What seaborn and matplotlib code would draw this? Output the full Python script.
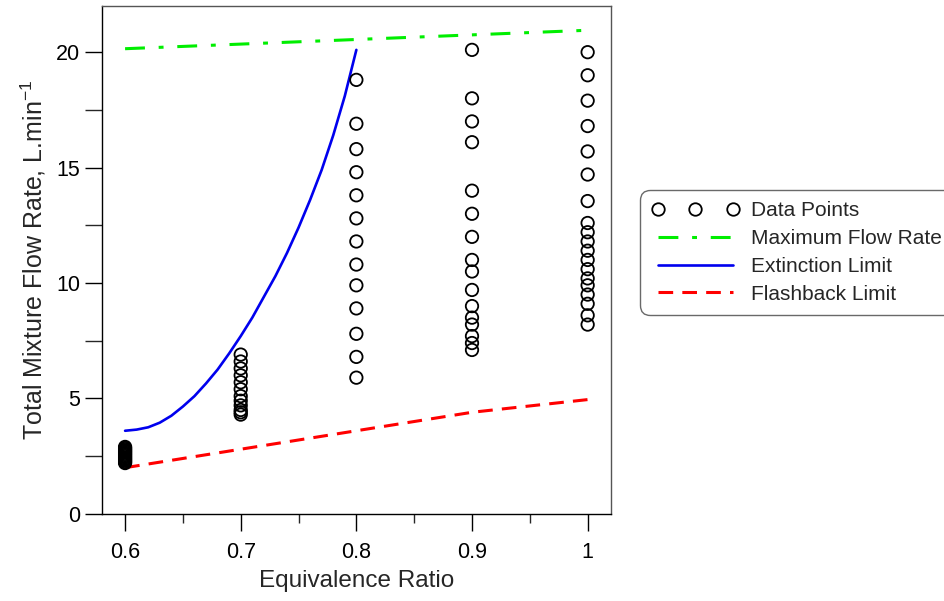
#!/usr/bin/env python3
"""Flow rate vs equivalence ratio: stability map with data points and limits."""
import matplotlib
matplotlib.use("Agg")
import matplotlib.pyplot as plt
from matplotlib.lines import Line2D
from matplotlib.ticker import MultipleLocator
import pandas as pd
import seaborn as sns

# ---- data ----
phi_06 = [2.2, 2.25, 2.3, 2.35, 2.4, 2.45, 2.5, 2.55, 2.6, 2.65, 2.7, 2.75, 2.8, 2.85, 2.9]
phi_07 = [6.9, 6.6, 6.3, 6.0, 5.7, 5.4, 5.1, 4.9, 4.7, 4.5, 4.4, 4.3]
phi_08 = [18.8, 16.9, 15.8, 14.8, 13.8, 12.8, 11.8, 10.8, 9.9, 8.9, 7.8, 6.8, 5.9]
phi_09 = [20.1, 18.0, 17.0, 16.1, 14.0, 13.0, 12.0, 11.0, 10.5, 9.7, 9.0, 8.5, 8.2, 7.7, 7.4, 7.1]
phi_10 = [20.0, 19.0, 17.9, 16.8, 15.7, 14.7, 13.55, 12.6, 12.2, 11.8, 11.4, 11.0, 10.6, 10.2, 9.9, 9.5, 9.1, 8.6, 8.2]

max_phi = [0.6, 0.7, 0.8, 0.9, 1.0]
max_flow = [20.15, 20.35, 20.55, 20.75, 20.95]

ext_phi = [0.60, 0.61, 0.62, 0.63, 0.64, 0.65, 0.66, 0.67, 0.68, 0.69, 0.70,
           0.71, 0.72, 0.73, 0.74, 0.75, 0.76, 0.77, 0.78, 0.79, 0.80]
ext_flow = [3.6, 3.65, 3.75, 3.95, 4.25, 4.65, 5.1, 5.65, 6.25, 6.95, 7.7,
            8.5, 9.4, 10.3, 11.3, 12.4, 13.6, 14.9, 16.4, 18.1, 20.1]

fb_phi = [0.6, 0.7, 0.8, 0.9, 1.0]
fb_flow = [2.0, 2.8, 3.6, 4.4, 4.95]

labels = ["Data Points", "Maximum Flow Rate", "Extinction Limit", "Flashback Limit"]

pts = pd.concat([
    pd.DataFrame({"phi": ph, "flow": v})
    for ph, v in [(0.6, phi_06), (0.7, phi_07), (0.8, phi_08), (0.9, phi_09), (1.0, phi_10)]
], ignore_index=True)

GREEN, BLUE, RED = "#00ee00", "#0000ee", "#ff0000"
GREEN_DASH, RED_DASH = (6.5, 4.5, 1.6, 4.5), (4.8, 3.0)

sns.set_style("ticks")
plt.rcParams["font.family"] = ["Liberation Sans", "DejaVu Sans"]
plt.rcParams["mathtext.fontset"] = "custom"
plt.rcParams["mathtext.rm"] = "Liberation Sans"

fig = plt.figure(figsize=(9.44, 6.01), dpi=100)
ax = fig.add_axes([0.108, 0.145, 0.539, 0.845])

sns.lineplot(x=max_phi, y=max_flow, ax=ax, color=GREEN, lw=2.2)
ax.get_lines()[-1].set_dashes(GREEN_DASH)
sns.lineplot(x=ext_phi, y=ext_flow, ax=ax, color=BLUE, lw=1.9)
sns.lineplot(x=fb_phi, y=fb_flow, ax=ax, color=RED, lw=2.2)
ax.get_lines()[-1].set_dashes(RED_DASH)

sns.scatterplot(data=pts, x="phi", y="flow", ax=ax, marker="o", s=80,
                facecolor="none", edgecolor="black", linewidth=1.3, zorder=3)

ax.set_xlim(0.58, 1.02)
ax.set_ylim(0, 22)
ax.set_xticks([0.6, 0.7, 0.8, 0.9, 1.0])
ax.set_xticklabels(["0.6", "0.7", "0.8", "0.9", "1"])
ax.xaxis.set_minor_locator(MultipleLocator(0.05))
ax.yaxis.set_major_locator(MultipleLocator(5))
ax.yaxis.set_minor_locator(MultipleLocator(2.5))
ax.tick_params(axis="both", which="major", direction="out", length=12,
               width=1, labelsize=15.5, colors="black")
ax.tick_params(axis="y", which="minor", direction="out", length=12, width=1)
ax.tick_params(axis="x", which="minor", direction="out", length=6.5, width=1)
ax.tick_params(axis="x", which="major", pad=8)
for side in ["left", "bottom"]:
    ax.spines[side].set_color("black")
for side in ["top", "right"]:
    ax.spines[side].set_color("#555555")
for sp in ax.spines.values():
    sp.set_linewidth(1.0)

ax.set_xlabel("Equivalence Ratio", fontsize=17.5, labelpad=5)
ax.set_ylabel("Total Mixture Flow Rate, L.min$^{\\mathregular{-1}}$", fontsize=18, labelpad=6)

handles = [
    Line2D([], [], ls="none", marker="o", ms=9, mfc="none", mec="black", mew=1.3),
    Line2D([], [], color=GREEN, lw=2.2, dashes=GREEN_DASH),
    Line2D([], [], color=BLUE, lw=1.9),
    Line2D([], [], color=RED, lw=2.2, dashes=RED_DASH),
]
leg = fig.legend(handles, labels, loc="upper left", bbox_to_anchor=(0.678, 0.684),
                 borderaxespad=0, numpoints=3, fontsize=15, handlelength=4.2,
                 handletextpad=0.6, labelspacing=0.42, borderpad=0.55,
                 frameon=True, fancybox=True)
frame = leg.get_frame()
frame.set_edgecolor("#444444")
frame.set_linewidth(1.0)
frame.set_boxstyle("round", pad=0, rounding_size=0.5)

fig.savefig("out.png", dpi=100)
